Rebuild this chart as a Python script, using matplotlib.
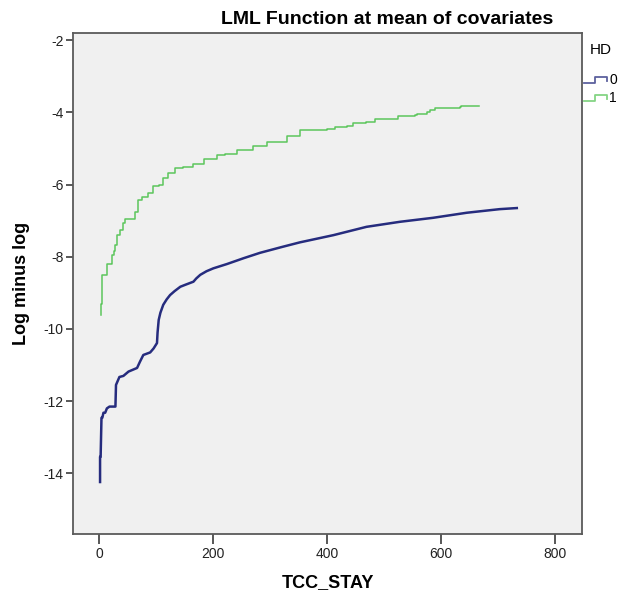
import matplotlib
matplotlib.use("Agg")
import matplotlib.pyplot as plt
from matplotlib.lines import Line2D
from matplotlib.legend_handler import HandlerBase

plt.rcParams['font.family'] = ['Liberation Sans', 'DejaVu Sans']
plt.rcParams['axes.unicode_minus'] = False

# ---- data (corner points) ----
hd0_t = [1, 1, 2, 3.5, 5, 7, 10, 13, 17.6, 28, 29, 35, 42, 51, 66, 71, 77, 89, 95, 101,
         102, 104, 107, 112, 118, 124, 132, 142, 150, 165, 170, 177, 188, 200, 224, 253,
         282, 320, 352, 411, 469, 528, 586, 645, 703, 733]
hd0_y = [-14.24, -13.54, -13.54, -12.46, -12.46, -12.32, -12.32, -12.20, -12.15, -12.15,
         -11.55, -11.33, -11.30, -11.18, -11.08, -10.91, -10.72, -10.65, -10.54, -10.39,
         -10.10, -9.75, -9.55, -9.33, -9.18, -9.06, -8.95, -8.83, -8.78, -8.69, -8.60,
         -8.50, -8.40, -8.32, -8.20, -8.04, -7.89, -7.73, -7.60, -7.40, -7.17, -7.03,
         -6.92, -6.78, -6.68, -6.65]

hd1_t = [2.4, 3, 4, 4.5, 13, 14, 21, 22.5, 26, 27.6, 31.6, 36, 41, 45, 56, 63, 68, 74,
         86, 94, 104, 112, 121, 133, 147, 165, 183, 206, 221, 241, 270, 294, 329, 352,
         399, 414, 434, 446, 469, 484, 505, 525, 554, 557, 575, 581, 589, 633, 635, 667]
hd1_y = [-9.61, -9.30, -8.92, -8.51, -8.51, -8.21, -8.21, -7.95, -7.85, -7.68, -7.40,
         -7.26, -7.07, -6.94, -6.94, -6.75, -6.43, -6.34, -6.24, -6.04, -6.01, -5.83,
         -5.67, -5.55, -5.51, -5.44, -5.30, -5.18, -5.15, -5.03, -4.93, -4.81, -4.65,
         -4.50, -4.47, -4.40, -4.38, -4.29, -4.27, -4.19, -4.17, -4.09, -4.07, -4.04,
         -4.00, -3.92, -3.87, -3.86, -3.83, -3.83]

series_labels = ['0', '1']
series_colors = ['#262c7e', '#5cc65c']
x_ticks = [0, 200, 400, 600, 800]
y_ticks = [-14, -12, -10, -8, -6, -4, -2]


class StepHandler(HandlerBase):
    def create_artists(self, legend, orig_handle, xdescent, ydescent,
                       width, height, fontsize, trans):
        fx = [0.0, 0.5, 0.5, 1.0, 1.0]
        fy = [0.15, 0.15, 0.75, 0.75, 0.35]
        xs = [f * width - xdescent for f in fx]
        ys = [f * height - ydescent for f in fy]
        ln = Line2D(xs, ys, color=orig_handle.get_color(), lw=1.3, alpha=0.75)
        ln.set_transform(trans)
        return [ln]


fig = plt.figure(figsize=(6.19, 5.96), dpi=100)
ax = fig.add_axes([73.3 / 619, 62 / 596, (581.7 - 73.3) / 619, (534 - 33) / 596])
ax.set_facecolor('#f0f0f0')

l0, = ax.plot(hd0_t, hd0_y, color=series_colors[0], lw=1.8)
l1, = ax.step(hd1_t, hd1_y, where='post', color=series_colors[1], lw=1.1)

ax.set_xlim(-46, 847)
ax.set_ylim(-15.68, -1.8)
ax.set_xticks(x_ticks)
ax.set_yticks(y_ticks)
ax.set_xticklabels([str(v) for v in x_ticks])
ax.set_yticklabels([str(v) for v in y_ticks])

for s in ax.spines.values():
    s.set_color('#5a5a5a')
    s.set_linewidth(1.3)
ax.tick_params(axis='x', direction='out', length=7, width=1.3, color='#4a4a4a',
               labelsize=10, labelcolor='#222222', pad=2)
ax.tick_params(axis='y', direction='out', length=5, width=1.3, color='#4a4a4a',
               labelsize=10, labelcolor='#222222', pad=2)

ax.set_xlabel('TCC_STAY', fontsize=13, fontweight='bold', labelpad=10)
ax.set_ylabel('Log minus log', fontsize=13, fontweight='bold', labelpad=10)

fig.text(387 / 619, 1 - 19 / 596, 'LML Function at mean of covariates',
         ha='center', va='center', fontsize=14, fontweight='bold')

fig.text(601 / 619, 1 - 50 / 596, 'HD', ha='center', va='center', fontsize=11)

leg = fig.legend([l0, l1], series_labels,
                 handler_map={Line2D: StepHandler()},
                 loc='upper left', bbox_to_anchor=(584 / 619, 1 - 73 / 596),
                 frameon=False, fontsize=10,
                 handlelength=1.65, handletextpad=0.15, labelspacing=0.3,
                 borderpad=0, borderaxespad=0)

fig.savefig('out.png', dpi=100)
